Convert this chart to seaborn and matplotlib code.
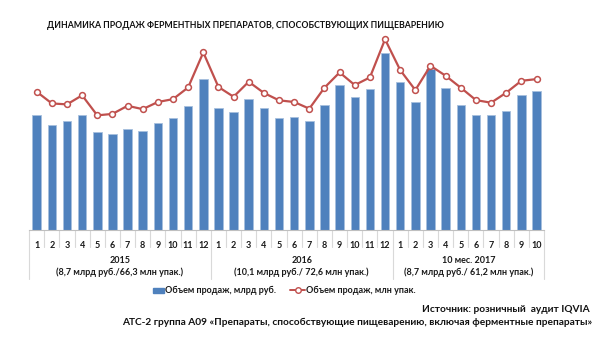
import matplotlib
matplotlib.use("Agg")
import matplotlib.pyplot as plt
import matplotlib.transforms as mtransforms
import seaborn as sns
import pandas as pd

# Данные (оценка по картинке)
months = [str(m) for m in range(1, 13)] * 2 + [str(m) for m in range(1, 11)]
rub_bln = [0.75, 0.69, 0.71, 0.75, 0.64, 0.63, 0.66, 0.65, 0.70, 0.73, 0.81, 0.99,
           0.80, 0.77, 0.86, 0.80, 0.73, 0.74, 0.71, 0.82, 0.95, 0.87, 0.92, 1.16,
           0.97, 0.84, 1.05, 0.93, 0.82, 0.75, 0.75, 0.78, 0.88, 0.91]
packs_mln = [5.80, 5.31, 5.27, 5.65, 4.81, 4.87, 5.21, 5.07, 5.37, 5.49, 5.98, 7.45,
             6.00, 5.59, 6.22, 5.75, 5.44, 5.37, 5.09, 5.97, 6.61, 6.08, 6.40, 8.00,
             6.71, 5.87, 6.89, 6.47, 5.97, 5.45, 5.34, 5.76, 6.26, 6.33]
years = ["2015", "2016", "10 мес. 2017"]
year_notes = ["(8,7 млрд руб./66,3 млн упак.)",
              "(10,1 млрд руб./ 72,6 млн упак.)",
              "(8,7 млрд руб./ 61,2 млн упак.)"]
year_sizes = [12, 12, 10]

df = pd.DataFrame({"idx": range(len(months)), "month": months,
                   "rub": rub_bln, "packs": packs_mln})

sns.set_style("white")
plt.rcParams["font.family"] = ["Lato", "DejaVu Sans"]

BLUE = "#4F81BD"
RED = "#C0504D"
GREY = "#D9D9D9"
TXT = "#1a1a1a"

fig = plt.figure(figsize=(6.09, 3.51), dpi=100)
ax = fig.add_axes([0.0478, 0.3447, 0.8456, 0.5698])

sns.barplot(data=df, x="idx", y="rub", color=BLUE, width=0.56,
            edgecolor="#A7C0DE", linewidth=0.6, saturation=1, ax=ax)
ax.set_ylim(0, 1.308)
ax.set_xlim(-0.5, len(months) - 0.5)

ax2 = ax.twinx()
sns.lineplot(data=df, x="idx", y="packs", color=RED, linewidth=1.6,
             marker="o", markersize=4.2, markerfacecolor="white",
             markeredgecolor=RED, markeredgewidth=1.1, ax=ax2)
ax2.set_ylim(0, 8.39)
ax2.set_xlim(-0.5, len(months) - 0.5)

for a in (ax, ax2):
    a.set_yticks([])
    a.set_xlabel("")
    a.set_ylabel("")
    for s in ("top", "right", "left"):
        a.spines[s].set_visible(False)
ax2.spines["bottom"].set_visible(False)
ax.spines["bottom"].set_color("#BFBFBF")
ax.spines["bottom"].set_linewidth(0.8)

ax.set_xticks(df["idx"])
ax.set_xticklabels(months, fontsize=6.5, fontweight="bold", color=TXT)
ax.tick_params(axis="x", length=0, pad=8)

# разделители категорий
trans = mtransforms.blended_transform_factory(ax.transData, ax.transAxes)
bounds = [0]
for n in year_sizes:
    bounds.append(bounds[-1] + n)
for i in range(len(months) + 1):
    low = -0.245 if i in bounds else -0.085
    ax.plot([i - 0.5, i - 0.5], [0, low], color=GREY, lw=0.8,
            transform=trans, clip_on=False)

for k, (y, note) in enumerate(zip(years, year_notes)):
    center = (bounds[k] + bounds[k + 1] - 1) / 2
    ax.text(center, -0.153, y, transform=trans, ha="center", va="center",
            fontsize=6.5, fontweight="bold", color=TXT)
    ax.text(center, -0.212, note, transform=trans, ha="center", va="center",
            fontsize=6.5, fontweight="bold", color=TXT)

fig.text(47 / 609, 1 - 25 / 351,
         "ДИНАМИКА ПРОДАЖ ФЕРМЕНТНЫХ ПРЕПАРАТОВ, СПОСОБСТВУЮЩИХ ПИЩЕВАРЕНИЮ",
         fontsize=6.3, fontweight="bold", ha="left", va="center", color="#111111")

# легенда
fig.patches.append(plt.Rectangle((153 / 609, 1 - 293 / 351), 11 / 609, 5 / 351,
                                 transform=fig.transFigure, color=BLUE))
fig.text(165 / 609, 1 - 290 / 351, "Объем продаж, млрд руб.", fontsize=6.5,
         fontweight="bold", ha="left", va="center", color=TXT)
fig.lines.append(plt.Line2D([290 / 609, 305 / 609], [1 - 290 / 351] * 2,
                            transform=fig.transFigure, color=RED, lw=1.4))
fig.lines.append(plt.Line2D([297.5 / 609], [1 - 290 / 351],
                            transform=fig.transFigure, color=RED, lw=0,
                            marker="o", markersize=4, markerfacecolor="white",
                            markeredgecolor=RED, markeredgewidth=1))
fig.text(306 / 609, 1 - 290 / 351, "Объем продаж, млн упак.", fontsize=6.5,
         fontweight="bold", ha="left", va="center", color=TXT)

fig.text(590 / 609, 1 - 310 / 351, "Источник: розничный  аудит IQVIA",
         fontsize=7.3, fontweight="bold", ha="right", va="center", color="#111111")
fig.text(592 / 609, 1 - 322 / 351,
         "АТС-2 группа А09 «Препараты, способствующие пищеварению, включая ферментные препараты»",
         fontsize=7.3, fontweight="bold", ha="right", va="center", color="#111111")

fig.savefig("out.png", dpi=100, facecolor="white")
